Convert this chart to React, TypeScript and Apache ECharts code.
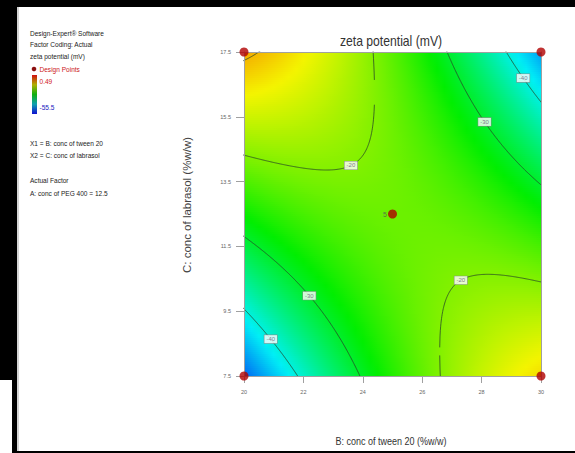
import React, { useEffect, useRef } from 'react';
import * as echarts from 'echarts';

// Axis ticks
const xTicks = [20, 22, 24, 26, 28, 30];
const yTicks = [7.5, 9.5, 11.5, 13.5, 15.5, 17.5];

// Fitted quadratic response surface (coded units): Intercept, B, C, BC, B^2, C^2
const modelTerms = ['Intercept', 'B', 'C', 'BC', 'B^2', 'C^2'];
const modelCoefs = [-21.35, 0.15, 1.6, -18.9, -5.6, -2.6];

// Design points
const designX = [20, 30, 20, 30, 25];
const designY = [7.5, 7.5, 17.5, 17.5, 12.5];
const designLabels = ['', '', '', '', '5'];

// Contours
const contourLevels = [-40, -30, -20, -10];
const labelLevels = [-20, -30, -40, -30, -40, -20];
const labelX = [23.6, 28.1, 29.4, 22.2, 20.9, 27.3];
const labelYHint = [14.07, 15.37, 16.7, 10.0, 8.77, 10.6];

const responseRange = [-55.5, 0.49];
const palette = ['#0010f0', '#00f0f6', '#00ee00', '#f4f400', '#f40000'];

const FONT = 'Liberation Sans, Arial, sans-serif';

function zeta(x: number, y: number) {
  const X = (x - 25) / 5;
  const Y = (y - 12.5) / 5;
  const [b0, b1, b2, b3, b4, b5] = modelCoefs;
  return b0 + b1 * X + b2 * Y + b3 * X * Y + b4 * X * X + b5 * Y * Y;
}

function rootsY(x: number, L: number): number[] | null {
  const X = (x - 25) / 5;
  const [b0, b1, b2, b3, b4, b5] = modelCoefs;
  const A = b5;
  const B = b2 + b3 * X;
  const C = b0 + b1 * X + b4 * X * X - L;
  const d = B * B - 4 * A * C;
  if (d < 0) return null;
  const s = Math.sqrt(d);
  return [12.5 + (5 * (-B + s)) / (2 * A), 12.5 + (5 * (-B - s)) / (2 * A)];
}

function colorOf(z: number) {
  const t = Math.max(0, Math.min(1, (z - responseRange[0]) / (responseRange[1] - responseRange[0])));
  return echarts.color.lerp(t, palette) as string;
}

function txt(text: string, x: number, y: number, size: number, fill: string, opts: any = {}) {
  const align = opts.align || 'left';
  return {
    type: 'text',
    x,
    y,
    rotation: opts.rotation || 0,
    scaleX: opts.scaleX || 1,
    z: 50,
    style: {
      text,
      fontSize: size,
      fontFamily: FONT,
      fill,
      textAlign: align,
      align,
      textVerticalAlign: 'middle',
      verticalAlign: 'middle',
    },
  };
}

const frameStyle = (left: number, top: number, width: number, height: number, bg = '#000'): React.CSSProperties => ({
  position: 'absolute',
  left,
  top,
  width,
  height,
  background: bg,
  zIndex: 10,
});

export default function App() {
  const ref = useRef<HTMLDivElement>(null);
  useEffect(() => {
    if (!ref.current) return;
    const chart = echarts.init(ref.current, undefined, { renderer: 'svg' });

    const fillSeries: any = {
      type: 'custom',
      silent: true,
      z: 1,
      clip: true,
      data: [[25, 12.5]],
      renderItem: (_params: any, api: any) => {
        const rows = 162;
        const cols = 40;
        const p0 = api.coord([xTicks[0], yTicks[yTicks.length - 1]]);
        const p1 = api.coord([xTicks[xTicks.length - 1], yTicks[0]]);
        const h = (p1[1] - p0[1]) / rows;
        const children: any[] = [];
        for (let r = 0; r < rows; r++) {
          const yv = 17.5 - ((r + 0.5) / rows) * 10;
          const stops: any[] = [];
          for (let c = 0; c <= cols; c++) {
            const xv = 20 + (c / cols) * 10;
            stops.push({ offset: c / cols, color: colorOf(zeta(xv, yv)) });
          }
          children.push({
            type: 'rect',
            shape: { x: p0[0], y: p0[1] + r * h, width: p1[0] - p0[0], height: r === rows - 1 ? h : h + 0.7 },
            style: { fill: new echarts.graphic.LinearGradient(0, 0, 1, 0, stops) },
          });
        }
        return { type: 'group', children };
      },
    };

    const contourSeries: any[] = [];
    contourLevels.forEach((L) => {
      [0, 1].forEach((branch) => {
        const data: any[] = [];
        for (let i = 0; i <= 1040; i++) {
          const x = 19.8 + i * 0.01;
          const r = rootsY(x, L);
          if (!r || r[branch] < 5.5 || r[branch] > 19.5) data.push([x, '-']);
          else data.push([x, r[branch]]);
        }
        contourSeries.push({
          type: 'line',
          data,
          showSymbol: false,
          symbol: 'none',
          silent: true,
          clip: true,
          z: 3,
          connectNulls: false,
          lineStyle: { color: 'rgba(40,70,40,0.85)', width: 0.9 },
        });
      });
    });

    const labelData = labelLevels.map((L, i) => {
      const r = rootsY(labelX[i], L) || [labelYHint[i], labelYHint[i]];
      const y = Math.abs(r[0] - labelYHint[i]) < Math.abs(r[1] - labelYHint[i]) ? r[0] : r[1];
      return { value: [labelX[i], y], name: String(L) };
    });

    const option: any = {
      animation: false,
      backgroundColor: '#ffffff',
      grid: { left: 244, top: 52, right: 34, bottom: 77, containLabel: false, outerBoundsMode: 'none' },
      xAxis: [
        {
          type: 'value',
          min: 20,
          max: 30,
          interval: 2,
          position: 'bottom',
          z: 10,
          axisLine: { show: true, lineStyle: { color: '#a0a0a0', width: 1 } },
          axisTick: { show: true, length: 7, lineStyle: { color: '#a0a0a0' } },
          axisLabel: { fontSize: 5.5, color: '#666', margin: 13, fontFamily: FONT, formatter: (v: number) => String(v) },
          splitLine: { show: false },
        },
        {
          type: 'value',
          min: 20,
          max: 30,
          position: 'top',
          z: 10,
          axisLine: { show: true, lineStyle: { color: '#a0a0a0', width: 1 } },
          axisTick: { show: false },
          axisLabel: { show: false },
          splitLine: { show: false },
        },
      ],
      yAxis: [
        {
          type: 'value',
          min: 7.5,
          max: 17.5,
          interval: 2,
          position: 'left',
          z: 10,
          axisLine: { show: true, lineStyle: { color: '#a0a0a0', width: 1 } },
          axisTick: { show: true, length: 8, lineStyle: { color: '#a0a0a0' } },
          axisLabel: { fontSize: 5.5, color: '#666', margin: 13, fontFamily: FONT, formatter: (v: number) => v.toFixed(1) },
          splitLine: { show: false },
        },
        {
          type: 'value',
          min: 7.5,
          max: 17.5,
          position: 'right',
          z: 10,
          axisLine: { show: true, lineStyle: { color: '#a0a0a0', width: 1 } },
          axisTick: { show: false },
          axisLabel: { show: false },
          splitLine: { show: false },
        },
      ],
      series: [
        fillSeries,
        ...contourSeries,
        {
          type: 'scatter',
          data: labelData,
          symbolSize: 0,
          silent: true,
          z: 6,
          label: {
            show: true,
            position: 'inside',
            formatter: (p: any) => p.name,
            fontSize: 6,
            fontFamily: FONT,
            color: '#6a5a7a',
            backgroundColor: '#ffffff',
            borderColor: '#888',
            borderWidth: 0.6,
            padding: [1, 2, 1, 2],
          },
        },
        {
          type: 'scatter',
          data: designX.map((x, i) => ({ value: [x, designY[i]], name: designLabels[i] })),
          symbolSize: 9,
          z: 20,
          itemStyle: { color: '#b00000' },
          label: {
            show: true,
            position: 'left',
            distance: 1,
            formatter: (p: any) => p.name,
            fontSize: 7,
            fontFamily: FONT,
            color: '#555',
          },
        },
      ],
      graphic: [
        // left info panel
        txt('Design-Expert® Software', 30, 33, 8, '#222', { scaleX: 0.82 }),
        txt('Factor Coding: Actual', 30, 44, 8, '#222', { scaleX: 0.82 }),
        txt('zeta potential (mV)', 30, 56, 8, '#222', { scaleX: 0.82 }),
        { type: 'circle', shape: { cx: 34, cy: 69, r: 2.3 }, style: { fill: '#8b1010' }, z: 50 },
        txt('Design Points', 39.5, 69, 8, '#cc2020', { scaleX: 0.82 }),
        {
          type: 'rect',
          shape: { x: 32, y: 75, width: 5, height: 39 },
          z: 50,
          style: {
            fill: new echarts.graphic.LinearGradient(0, 0, 0, 1, [
              { offset: 0, color: '#d01010' },
              { offset: 0.25, color: '#b0b000' },
              { offset: 0.5, color: '#10b010' },
              { offset: 0.75, color: '#10a0b0' },
              { offset: 1, color: '#1010d0' },
            ]),
          },
        },
        txt('0.49', 39.5, 81, 8, '#d02020', { scaleX: 0.82 }),
        txt('-55.5', 39.5, 107, 8, '#2020c0', { scaleX: 0.82 }),
        txt('X1 = B: conc of tween 20', 30, 143, 8, '#222', { scaleX: 0.82 }),
        txt('X2 = C: conc of labrasol', 30, 155, 8, '#222', { scaleX: 0.82 }),
        txt('Actual Factor', 30, 180, 8, '#222', { scaleX: 0.82 }),
        txt('A: conc of PEG 400 = 12.5', 30, 193, 8, '#222', { scaleX: 0.82 }),
        // titles
        txt('zeta potential (mV)', 391, 41, 14.5, '#333', { align: 'center', scaleX: 0.84 }),
        txt('B: conc of tween 20 (%w/w)', 391, 441, 11, '#333', { align: 'center', scaleX: 0.82 }),
        txt('C: conc of labrasol (%w/w)', 187, 205, 11.5, '#444', { align: 'center', rotation: Math.PI / 2 }),
      ],
    };

    chart.setOption(option);
    return () => chart.dispose();
  }, []);

  return (
    <div style={{ position: 'absolute', left: 0, top: 0, width: 575, height: 453, background: '#fff' }}>
      <div
        ref={ref}
        data-terms={modelTerms.join(',')}
        style={{ position: 'absolute', left: 0, top: 0, width: 575, height: 453 }}
      />
      <div style={frameStyle(0, 0, 575, 7)} />
      <div style={frameStyle(0, 0, 17, 380)} />
      <div style={frameStyle(12, 380, 5, 73)} />
      <div style={frameStyle(17, 7, 2, 446, '#d4d4d4')} />
      <div style={frameStyle(12, 451, 563, 2)} />
    </div>
  );
}
